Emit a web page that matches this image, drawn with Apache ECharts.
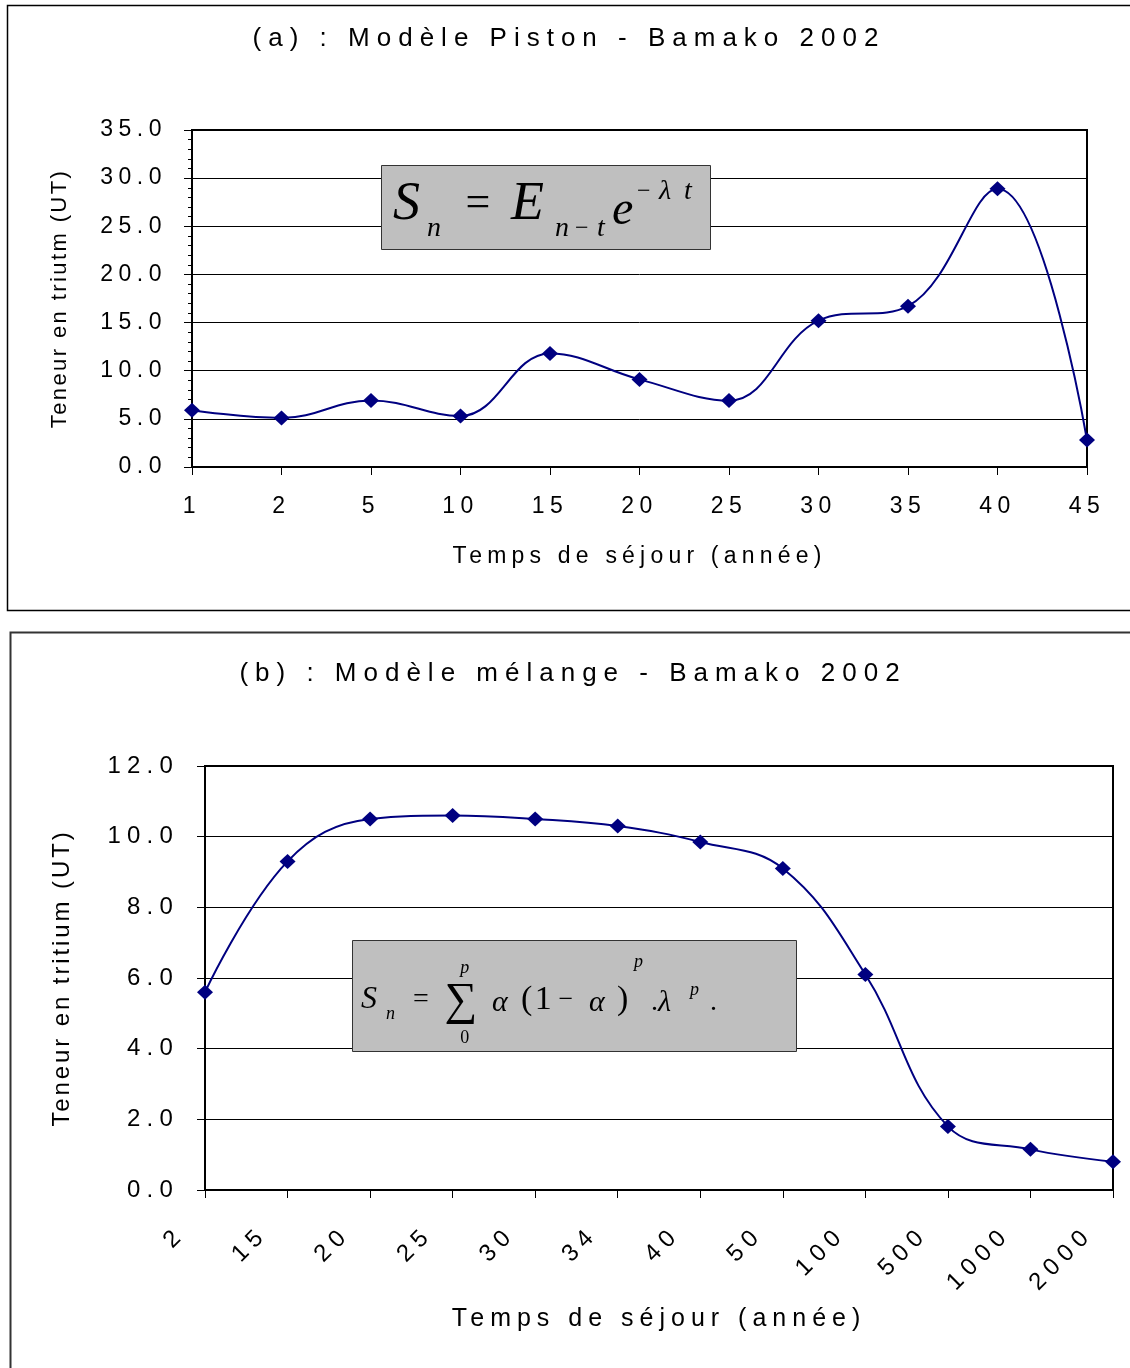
<!DOCTYPE html>
<html><head><meta charset="utf-8">
<script src="https://cdn.jsdelivr.net/npm/echarts@6/dist/echarts.min.js"></script>
<style>html,body{margin:0;padding:0;background:#fff}#c{width:1130px;height:1368px}</style>
</head><body><div id="c"></div>
<script>
// ---------- data ----------
const catsA = ['1','2','5','10','15','20','25','30','35','40','45'];
const valsA = [5.9, 5.1, 6.9, 5.3, 11.8, 9.1, 6.9, 15.2, 16.7, 28.9, 2.8];
const catsB = ['2','15','20','25','30','34','40','50','100','500','1000','2000'];
const valsB = [5.6, 9.3, 10.5, 10.6, 10.5, 10.3, 9.85, 9.1, 6.1, 1.8, 1.15, 0.8];
const yTicksA = {min: 0, max: 35, interval: 5};
const yTicksB = {min: 0, max: 12, interval: 2};
const titleA = '(a) : Modèle Piston - Bamako 2002';
const titleB = '(b) : Modèle mélange - Bamako 2002';
const xNameA = 'Temps de séjour (année)';
const xNameB = 'Temps de séjour (année)';
const yNameA = 'Teneur en triutm (UT)';
const yNameB = 'Teneur en tritium (UT)';

// letter spacing: font family marker "lsNN" => NN/10 px spacing (falls back to Liberation Sans)
(function(){
  const P = CanvasRenderingContext2D.prototype;
  const orig = P.fillText;
  P.fillText = function(t, x, y, w){
    const m = /\bls(\d+)\b/.exec(this.font || '');
    if (m && ('letterSpacing' in this)) {
      const prev = this.letterSpacing;
      this.letterSpacing = (parseInt(m[1], 10) / 10) + 'px';
      const r = w === undefined ? orig.call(this, t, x, y) : orig.call(this, t, x, y, w);
      this.letterSpacing = prev;
      return r;
    }
    return w === undefined ? orig.call(this, t, x, y) : orig.call(this, t, x, y, w);
  };
})();
const F = (n) => "ls" + n + ", 'Liberation Sans', Arial, sans-serif";
const SERIF = "'Liberation Serif', 'Times New Roman', serif";
const NAVY = '#000080';

const chart = echarts.init(document.getElementById('c'), null, {renderer: 'canvas', width: 1130, height: 1368});

function tx(text, x, y, size, italic, align) {
  return {type: 'text', x: x, y: y, z: 102, silent: true,
    style: {text: text, fill: '#000', font: (italic ? 'italic ' : '') + size + 'px ' + SERIF,
      textAlign: align || 'left', textVerticalAlign: 'middle'}};
}

const option = {
  animation: false,
  backgroundColor: '#fff',
  title: [
    {text: titleA, left: 569, top: 26, textAlign: 'center', padding: 0,
     textStyle: {fontFamily: F(70), fontSize: 26, fontWeight: 'normal', color: '#000'}},
    {text: titleB, left: 573, top: 661, textAlign: 'center', padding: 0,
     textStyle: {fontFamily: F(70), fontSize: 26, fontWeight: 'normal', color: '#000'}}
  ],
  grid: [
    {left: 192, top: 130, width: 895, height: 337, show: true, borderColor: '#000', borderWidth: 2, containLabel: false},
    {left: 205, top: 766, width: 908, height: 424, show: true, borderColor: '#000', borderWidth: 2, containLabel: false}
  ],
  xAxis: [
    {gridIndex: 0, type: 'category', data: catsA, boundaryGap: false,
     axisLine: {lineStyle: {color: '#000', width: 2}},
     axisTick: {show: true, inside: false, length: 8, alignWithLabel: true, lineStyle: {color: '#000', width: 1}},
     axisLabel: {margin: 28, fontFamily: F(55), fontSize: 23, color: '#000'},
     splitLine: {show: false},
     name: xNameA, nameLocation: 'middle', nameGap: 78,
     nameTextStyle: {fontFamily: F(52), fontSize: 23, color: '#000'}},
    {gridIndex: 1, type: 'category', data: catsB, boundaryGap: false,
     axisLine: {lineStyle: {color: '#000', width: 2}},
     axisTick: {show: true, inside: false, length: 8, alignWithLabel: true, lineStyle: {color: '#000', width: 1}},
     axisLabel: {margin: 17, rotate: 45, interval: 0, padding: [0, 33, 0, 0], fontFamily: F(65), fontSize: 24, color: '#000'},
     splitLine: {show: false},
     name: xNameB, nameLocation: 'middle', nameGap: 117,
     nameTextStyle: {fontFamily: F(60), fontSize: 25, color: '#000'}}
  ],
  yAxis: [
    {gridIndex: 0, type: 'value', min: yTicksA.min, max: yTicksA.max, interval: yTicksA.interval,
     axisLine: {show: true, lineStyle: {color: '#000', width: 2}},
     axisTick: {show: true, inside: false, length: 8, lineStyle: {color: '#000', width: 1}},
     minorTick: {show: true, splitNumber: 5, length: 4, lineStyle: {color: '#000', width: 1}},
     axisLabel: {margin: 25, fontFamily: F(55), fontSize: 23, color: '#000', formatter: v => v.toFixed(1)},
     splitLine: {show: true, lineStyle: {color: '#000', width: 1}},
     name: yNameA, nameLocation: 'middle', nameGap: 121, nameRotate: 90,
     nameTextStyle: {fontFamily: F(24), fontSize: 22, color: '#000'}},
    {gridIndex: 1, type: 'value', min: yTicksB.min, max: yTicksB.max, interval: yTicksB.interval,
     axisLine: {show: true, lineStyle: {color: '#000', width: 2}},
     axisTick: {show: true, inside: false, length: 8, lineStyle: {color: '#000', width: 1}},
     axisLabel: {margin: 26, fontFamily: F(62), fontSize: 24, color: '#000', formatter: v => v.toFixed(1)},
     splitLine: {show: true, lineStyle: {color: '#000', width: 1}},
     name: yNameB, nameLocation: 'middle', nameGap: 131, nameRotate: 90,
     nameTextStyle: {fontFamily: F(29), fontSize: 24, color: '#000'}}
  ],
  series: [
    {type: 'line', xAxisIndex: 0, yAxisIndex: 0, data: valsA, smooth: 0.4,
     symbol: 'diamond', symbolSize: [16, 15], z: 5,
     itemStyle: {color: NAVY}, lineStyle: {color: NAVY, width: 2}},
    {type: 'line', xAxisIndex: 1, yAxisIndex: 1, data: valsB, smooth: 0.4,
     symbol: 'diamond', symbolSize: [16, 15], z: 5,
     itemStyle: {color: NAVY}, lineStyle: {color: NAVY, width: 2}}
  ],
  graphic: [
    // outer frames
    {type: 'rect', z: 0, silent: true, shape: {x: 7.5, y: 5.5, width: 1130, height: 605},
     style: {fill: null, stroke: '#000', lineWidth: 1.5}},
    {type: 'rect', z: 0, silent: true, shape: {x: 10.5, y: 632.5, width: 1130, height: 750},
     style: {fill: null, stroke: '#333', lineWidth: 2}},
    // formula box (a)
    {type: 'rect', z: 100, silent: true, shape: {x: 381.5, y: 165.5, width: 329, height: 84},
     style: {fill: '#bfbfbf', stroke: '#333', lineWidth: 1}},
    tx('S', 393, 205, 54, true),
    tx('n', 427, 229, 28, true),
    tx('=', 479, 204, 44, false, 'center'),
    tx('E', 511, 205, 54, true),
    tx('n', 555, 229, 28, true),
    tx('−', 583, 229, 24, false, 'center'),
    tx('t', 597, 229, 28, true),
    tx('e', 612, 211, 48, true),
    tx('−', 645, 192, 24, false, 'center'),
    tx('λ', 659, 192, 28, true),
    tx('t', 684, 192, 28, true),
    // formula box (b)
    {type: 'rect', z: 100, silent: true, shape: {x: 352.5, y: 940.5, width: 444, height: 111},
     style: {fill: '#bfbfbf', stroke: '#333', lineWidth: 1}},
    tx('S', 361, 1000, 32, true),
    tx('n', 386, 1014, 18, true),
    tx('=', 422, 1000, 28, false, 'center'),
    tx('∑', 462, 1002, 46, false, 'center'),
    tx('p', 466, 968, 18, true, 'center'),
    tx('0', 466, 1038, 18, false, 'center'),
    tx('α', 492, 1003, 30, true),
    tx('(1', 521, 1000, 34, false),
    tx('−', 567, 1000, 26, false, 'center'),
    tx('α', 589, 1003, 30, true),
    tx(')', 617, 1000, 34, false),
    tx('p', 634, 962, 18, true),
    tx('.', 651, 1003, 28, false),
    tx('λ', 658, 1003, 30, true),
    tx('p', 690, 990, 18, true),
    tx('.', 710, 1003, 28, false)
  ]
};
chart.setOption(option);
</script>
</body></html>
